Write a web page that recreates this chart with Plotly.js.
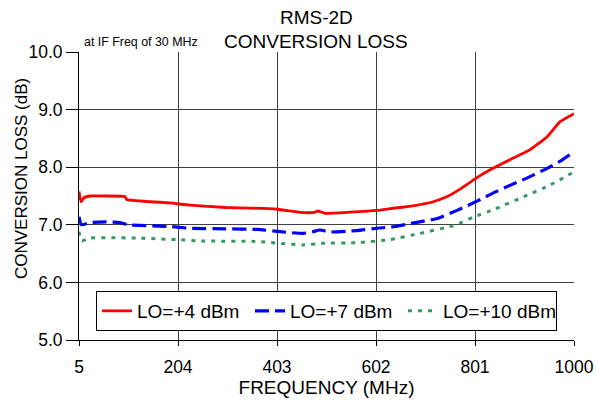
<!DOCTYPE html>
<html>
<head>
<meta charset="utf-8">
<script src="https://cdn.plot.ly/plotly-3.0.1.min.js"></script>
<style>html,body{margin:0;padding:0;background:#fff;}#chart{width:597px;height:400px;}</style>
</head>
<body>
<div id="chart"></div>
<script>
// Frequency (MHz) and conversion loss (dB)
const freqLO4 = [5, 9, 15, 27, 60, 97, 101, 150, 188, 228, 300, 350, 403, 459, 480, 485, 499, 550, 604, 630, 676, 717, 745, 771, 805, 837, 871, 911, 946, 972, 1000];
const lossLO4 = [7.58, 7.40, 7.47, 7.50, 7.50, 7.49, 7.44, 7.40, 7.38, 7.34, 7.30, 7.29, 7.27, 7.21, 7.22, 7.24, 7.20, 7.22, 7.25, 7.28, 7.33, 7.40, 7.49, 7.62, 7.82, 7.98, 8.13, 8.30, 8.53, 8.79, 8.93];

const freqLO7 = [5, 10, 27, 60, 87, 103, 188, 228, 300, 363, 409, 455, 475, 489, 509, 564, 604, 640, 676, 725, 765, 805, 837, 870, 905, 946, 975, 1000];
const lossLO7 = [7.14, 7.00, 7.04, 7.05, 7.04, 7.00, 6.97, 6.94, 6.93, 6.92, 6.88, 6.85, 6.88, 6.91, 6.875, 6.90, 6.94, 6.97, 7.03, 7.11, 7.25, 7.41, 7.55, 7.68, 7.81, 7.98, 8.12, 8.27];

const freqLO10 = [5, 10, 27, 122, 208, 248, 363, 455, 495, 564, 628, 690, 755, 771, 797, 840, 905, 952, 1000];
const lossLO10 = [6.88, 6.72, 6.77, 6.77, 6.74, 6.72, 6.71, 6.65, 6.68, 6.69, 6.74, 6.85, 6.98, 7.03, 7.13, 7.27, 7.51, 7.69, 7.92];

const seriesNames = ["LO=+4 dBm", "LO=+7 dBm", "LO=+10 dBm"];
const xTicks = [5, 204, 403, 602, 801, 1000];
const yTicks = [5, 6, 7, 8, 9, 10];

const FONT = "Liberation Sans, Arial, sans-serif";

const traces = [
  {x: freqLO4, y: lossLO4, name: seriesNames[0], mode: "lines",
   line: {color: "#ff0000", width: 2.8, shape: "spline", smoothing: 0.4}},
  {x: freqLO7, y: lossLO7, name: seriesNames[1], mode: "lines",
   line: {color: "#0000ff", width: 3.2, dash: "14px,6px", shape: "spline", smoothing: 0.4}},
  {x: freqLO10, y: lossLO10, name: seriesNames[2], mode: "lines",
   line: {color: "#339966", width: 3, dash: "4px,6px", shape: "spline", smoothing: 0.4}}
];

const layout = {
  width: 597, height: 400,
  margin: {l: 79, r: 23, t: 52, b: 60},
  paper_bgcolor: "#ffffff", plot_bgcolor: "#ffffff",
  font: {family: FONT, color: "#000"},
  showlegend: true,
  title: {text: ""},
  xaxis: {range: [5, 1000], tickvals: xTicks, ticktext: xTicks.map(String),
          showgrid: true, gridcolor: "#404040", gridwidth: 1,
          showline: true, linecolor: "#000", linewidth: 1,
          ticks: "outside", ticklen: 5, tickcolor: "#000", ticklabelstandoff: 6,
          tickfont: {size: 17.5, family: FONT},
          zeroline: false,
          title: {text: "FREQUENCY (MHz)", font: {size: 19, family: FONT}, standoff: 0}},
  yaxis: {range: [5, 10], tickvals: yTicks, tickformat: ".1f",
          showgrid: true, gridcolor: "#404040", gridwidth: 1,
          showline: true, linecolor: "#000", linewidth: 1,
          ticks: "outside", ticklen: 12, tickcolor: "#000", ticklabelstandoff: 0,
          tickfont: {size: 17.5, family: FONT},
          zeroline: false},
  legend: {orientation: "h", x: 17/495, xanchor: "left", y: 49/288, yanchor: "top",
           bgcolor: "#ffffff", bordercolor: "#000", borderwidth: 1,
           font: {size: 19, family: FONT},
           entrywidth: 108, entrywidthmode: "pixels", itemwidth: 30},
  annotations: [
    {text: "RMS-2D", xref: "paper", yref: "paper", x: (316-79)/495, y: (340-18)/288,
     xanchor: "center", yanchor: "middle", showarrow: false, font: {size: 19, family: FONT}},
    {text: "CONVERSION LOSS", xref: "paper", yref: "paper", x: (316-79)/495, y: (340-41)/288,
     xanchor: "center", yanchor: "middle", showarrow: false, font: {size: 19, family: FONT}},
    {text: "at IF Freq of 30 MHz", xref: "paper", yref: "paper", x: 3/495, y: (340-42)/288,
     xanchor: "left", yanchor: "middle", showarrow: false, font: {size: 12.4, family: FONT}},
    {text: "CONVERSION LOSS (dB)", xref: "paper", yref: "paper", x: (21-79)/495, y: (340-179)/288,
     xanchor: "center", yanchor: "middle", textangle: -90, showarrow: false, font: {size: 17, family: FONT}}
  ]
};

Plotly.newPlot("chart", traces, layout, {staticPlot: true, displayModeBar: false});
</script>
</body>
</html>
